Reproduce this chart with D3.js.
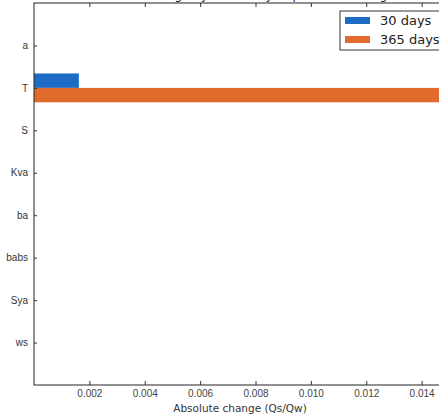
<!DOCTYPE html>
<html><head><meta charset="utf-8">
<script src="https://cdn.jsdelivr.net/npm/d3@7"></script>
<style>body{margin:0;background:#fff}svg{display:block}</style>
</head><body><div id="chart"></div>
<script>
const categories = ["a","T","S","Kva","ba","babs","Sya","ws"];
const series = ["30 days","365 days"];
const values30 = [0, 0.00162, 0, 0, 0, 0, 0, 0];
const values365 = [0, 0.0158, 0, 0, 0, 0, 0, 0];
const xTicks = [0.002,0.004,0.006,0.008,0.010,0.012,0.014];
const colors = ["#1c6cc6","#e06b2c"];

(function(){
const W=439,H=419;
const mLeft=34, mTop=3, mBottom=385, mRight=477;
const svg=d3.select("#chart").append("svg").attr("width",W).attr("height",H)
  .style("font-family","'DejaVu Sans', sans-serif");

const x=d3.scaleLinear().domain([0,0.016]).range([mLeft,mRight]);
const y=d3.scaleLinear().domain([0,categories.length+1]).range([mTop,mBottom]);
const barH=(y(1)-y(0))*0.34;

// title (mostly cropped above, as in the reference)
svg.append("text").attr("x",245).attr("y",-1).attr("text-anchor","middle")
  .attr("font-size",12).attr("fill","#222").text("Absolute change by sensitivity to parameter ranges");

const g=svg.append("g");
categories.forEach((c,i)=>{
  const yc=y(i+1);
  if(values30[i]>0) g.append("rect").attr("x",x(0)).attr("y",yc-barH).attr("width",x(values30[i])-x(0)).attr("height",barH).attr("fill",colors[0]);
  if(values365[i]>0) g.append("rect").attr("x",x(0)).attr("y",yc).attr("width",x(values365[i])-x(0)).attr("height",barH).attr("fill",colors[1]);
});

g.append("rect").attr("x",mLeft).attr("y",mTop).attr("width",mRight-mLeft).attr("height",mBottom-mTop)
  .attr("fill","none").attr("stroke","#222").attr("stroke-width",1);

const xb=svg.append("g").attr("transform",`translate(0,${mBottom})`)
  .call(d3.axisBottom(x).tickValues(xTicks).tickFormat(d3.format(".3f")).tickSize(-4).tickPadding(5));
xb.select(".domain").remove();
xb.selectAll("line").attr("stroke","#333");
xb.selectAll("text").attr("font-size",10).attr("fill","#444");
const xt=svg.append("g").attr("transform",`translate(0,${mTop})`)
  .call(d3.axisTop(x).tickValues(xTicks).tickFormat("").tickSize(-4));
xt.select(".domain").remove();
xt.selectAll("line").attr("stroke","#333");

const ya=svg.append("g").attr("transform",`translate(${mLeft},0)`)
  .call(d3.axisLeft(y).tickValues(categories.map((c,i)=>i+1)).tickFormat((d)=>categories[d-1]).tickSize(-3).tickPadding(6));
ya.select(".domain").remove();
ya.selectAll("line").attr("stroke","#333");
ya.selectAll("text").attr("font-size",10).attr("fill","#333");

svg.append("text").attr("x",240).attr("y",412).attr("text-anchor","middle")
  .attr("font-size",10.5).attr("fill","#333").text("Absolute change (Qs/Qw)");

const lg=svg.append("g");
lg.append("rect").attr("x",340).attr("y",11).attr("width",110).attr("height",39)
  .attr("fill","#fff").attr("stroke","#333").attr("stroke-width",1);
series.forEach((s,i)=>{
  const yy=17+i*19;
  lg.append("rect").attr("x",345).attr("y",yy).attr("width",25).attr("height",7).attr("fill",colors[i]);
  lg.append("text").attr("x",380).attr("y",yy+8).attr("font-size",13).attr("fill","#222").text(s);
});
})();
</script></body></html>
